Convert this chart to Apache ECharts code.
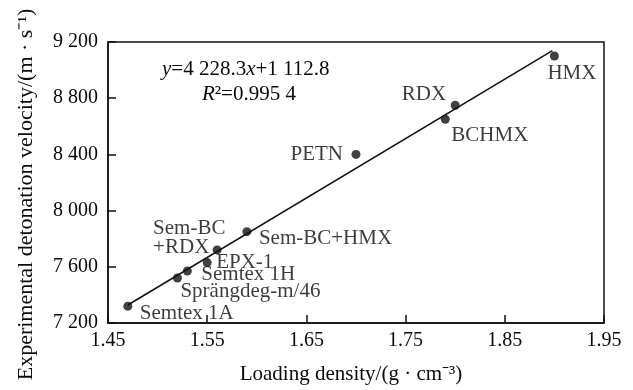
<!DOCTYPE html>
<html>
<head>
<meta charset="utf-8">
<script src="https://cdn.jsdelivr.net/npm/echarts@6/dist/echarts.min.js"></script>
<style>html,body{margin:0;padding:0;background:#fff}#c{width:633px;height:390px}</style>
</head>
<body>
<div id="c"></div>
<script>
// ---- data ----
var names = ['Semtex 1A', 'Sprängdeg-m/46', 'Semtex 1H', 'EPX-1', 'Sem-BC\n+RDX', 'Sem-BC+HMX', 'PETN', 'BCHMX', 'RDX', 'HMX'];
var density = [1.47, 1.52, 1.53, 1.55, 1.56, 1.59, 1.70, 1.79, 1.80, 1.90];
var velocity = [7320, 7520, 7570, 7630, 7720, 7850, 8400, 8650, 8750, 9100];
var fitX = [1.47, 1.898];
var fitY = [7328, 9138];
var xTicks = [1.45, 1.55, 1.65, 1.75, 1.85, 1.95];
var yTicks = [7200, 7600, 8000, 8400, 8800, 9200];

// ---- label placement (style only) ----
var labelStyle = {
  'Semtex 1A': {offset: [12, 7], align: 'left'},
  'Sprängdeg-m/46': {offset: [3, 13], align: 'left'},
  'Semtex 1H': {offset: [14, 3], align: 'left'},
  'EPX-1': {offset: [9, 0], align: 'left'},
  'Sem-BC\n+RDX': {offset: [-64, -12], align: 'left'},
  'Sem-BC+HMX': {offset: [12, 7], align: 'left'},
  'PETN': {offset: [-13, 0], align: 'right'},
  'BCHMX': {offset: [6, 16], align: 'left'},
  'RDX': {offset: [-9, -11], align: 'right'},
  'HMX': {offset: [-7, 17], align: 'left'}
};

var FONT = '"Liberation Serif", "Times New Roman", serif';
var INK = '#0a0a0a';
var pts = density.map(function (d, i) {
  var ls = labelStyle[names[i]];
  return {
    value: [d, velocity[i]],
    name: names[i],
    label: {
      show: true, position: 'inside', formatter: names[i],
      offset: ls.offset, align: ls.align, verticalAlign: 'middle',
      color: INK, fontFamily: FONT, fontSize: 21, lineHeight: 19
    }
  };
});

var chart = echarts.init(document.getElementById('c'), null, {renderer: 'canvas'});
chart.setOption({
  animation: false,
  backgroundColor: '#fff',
  grid: {left: 108, right: 29, top: 42, bottom: 64, show: true, borderColor: '#111', borderWidth: 1.5},
  xAxis: {
    type: 'value', min: xTicks[0], max: xTicks[xTicks.length - 1], interval: 0.1,
    name: 'Loading density/(g · cm⁻³)', nameLocation: 'middle', nameGap: 41,
    nameTextStyle: {fontFamily: FONT, fontSize: 21, color: INK, padding: [0, 10, 0, 0]},
    axisLine: {lineStyle: {color: '#111', width: 1.5}},
    axisTick: {inside: true, length: 8, lineStyle: {color: '#111', width: 1.5}},
    axisLabel: {fontFamily: FONT, fontSize: 20, color: INK, margin: 8,
      formatter: function (v) { return v.toFixed(2); }},
    splitLine: {show: false}
  },
  yAxis: {
    type: 'value', min: yTicks[0], max: yTicks[yTicks.length - 1], interval: 400,
    name: 'Experimental detonation velocity/(m · s⁻¹)', nameLocation: 'middle', nameGap: 71,
    nameTextStyle: {fontFamily: FONT, fontSize: 22, color: INK, padding: [0, 24, 0, 0]},
    axisLine: {lineStyle: {color: '#111', width: 1.5}},
    axisTick: {inside: true, length: 8, lineStyle: {color: '#111', width: 1.5}},
    axisLabel: {fontFamily: FONT, fontSize: 20, color: INK, margin: 10,
      formatter: function (v) { return String(v).replace(/(\d)(\d{3})$/, '$1 $2'); }},
    splitLine: {show: false}
  },
  graphic: [{
    type: 'text', left: 162, top: 59,
    style: {
      text: '{i|y}{n|=4 228.3}{i|x}{n|+1 112.8}',
      rich: {
        i: {fontFamily: FONT, fontSize: 21, fontStyle: 'italic', fill: INK},
        n: {fontFamily: FONT, fontSize: 21, fill: INK}
      }
    }
  }, {
    type: 'text', left: 202, top: 84,
    style: {
      text: '{i|R}{n|²=0.995 4}',
      rich: {
        i: {fontFamily: FONT, fontSize: 21, fontStyle: 'italic', fill: INK},
        n: {fontFamily: FONT, fontSize: 21, fill: INK}
      }
    }
  }],
  series: [{
    type: 'line', data: fitX.map(function (x, i) { return [x, fitY[i]]; }),
    showSymbol: false, lineStyle: {color: '#111', width: 1.5}, silent: true, z: 2
  }, {
    type: 'scatter', data: pts, symbol: 'circle', symbolSize: 9,
    itemStyle: {color: '#111'}, z: 3
  }]
});
</script>
</body>
</html>
